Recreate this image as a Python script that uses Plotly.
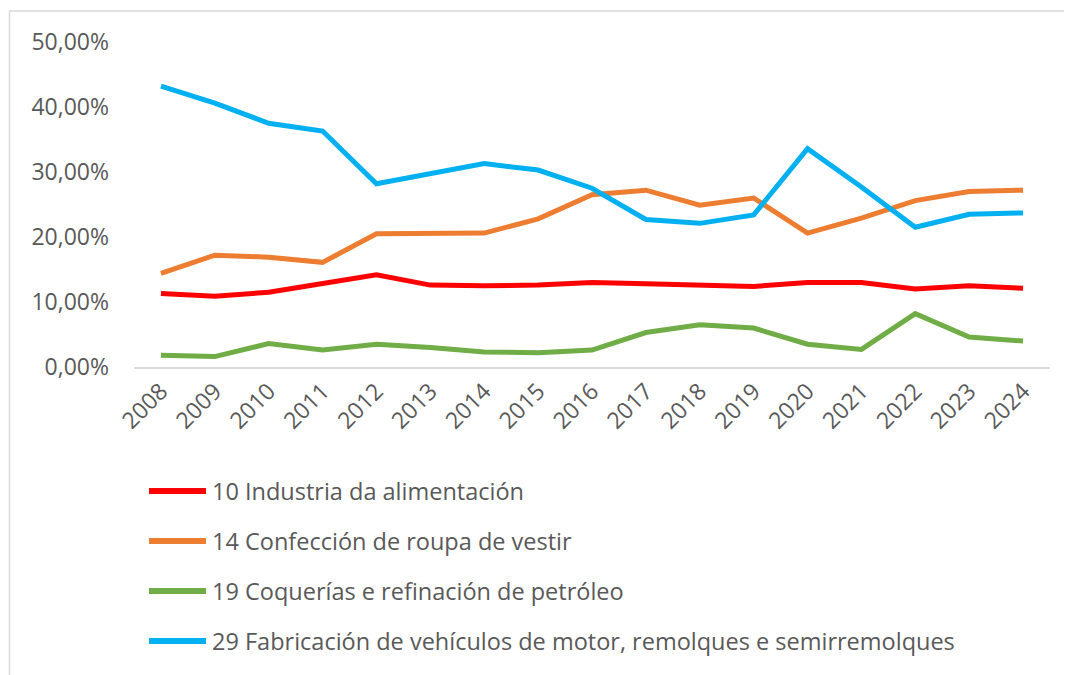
import plotly.graph_objects as go

years = [str(y) for y in range(2008, 2025)]

alimentacion = [11.3, 10.9, 11.5, 12.8, 14.2, 12.6, 12.5, 12.6, 13.0, 12.8, 12.6, 12.4, 13.0, 13.0, 12.0, 12.5, 12.1]
roupa = [14.4, 17.2, 16.9, 16.1, 20.5, 20.6, 20.6, 22.8, 26.5, 27.2, 24.9, 26.0, 20.6, 22.9, 25.6, 27.0, 27.2]
refinacion = [1.8, 1.6, 3.6, 2.6, 3.5, 3.0, 2.3, 2.2, 2.6, 5.3, 6.5, 6.0, 3.5, 2.7, 8.2, 4.6, 4.0]
vehiculos = [43.2, 40.6, 37.5, 36.3, 28.2, 29.8, 31.3, 30.3, 27.5, 22.7, 22.1, 23.4, 33.6, 27.7, 21.5, 23.5, 23.7]

series_names = [
    "10 Industria da alimentación",
    "14 Confección de roupa de vestir",
    "19 Coquerías e refinación de petróleo",
    "29 Fabricación de vehículos de motor, remolques e semirremolques",
]
series_values = [alimentacion, roupa, refinacion, vehiculos]
series_colors = ["#FF0000", "#ED7D31", "#70AD47", "#00B0F0"]

tick_vals = [0, 10, 20, 30, 40, 50]
tick_text = ["0,00%", "10,00%", "20,00%", "30,00%", "40,00%", "50,00%"]

OFF = 8  # page body margin
W, H = 1072 - OFF, 675 - OFF
L, T = 134 - OFF, 42 - OFF
pw, ph = 916, 325
R = W - L - pw
B = H - T - ph

FONT = "Open Sans"
TXT = "#595959"
FS = 23
FS_LEG = 23.5

fig = go.Figure()
for name, vals, col in zip(series_names, series_values, series_colors):
    fig.add_trace(go.Scatter(
        x=years, y=vals, mode="lines", name=name,
        line=dict(color=col, width=5), showlegend=False,
    ))


def px2paper_x(px):
    return (px - OFF - L) / pw


def px2paper_y(py):
    return (H - B - (py - OFF)) / ph


shapes = []
annotations = []
# outer border
shapes.append(dict(type="rect", xref="paper", yref="paper",
                   x0=px2paper_x(9.5), x1=px2paper_x(1090),
                   y0=px2paper_y(700), y1=px2paper_y(11),
                   line=dict(color="#D9D9D9", width=1.5), layer="below"))

legend_y = [491, 541, 591, 641]
for name, col, ly in zip(series_names, series_colors, legend_y):
    shapes.append(dict(type="line", xref="paper", yref="paper",
                       x0=px2paper_x(149), x1=px2paper_x(206),
                       y0=px2paper_y(ly), y1=px2paper_y(ly),
                       line=dict(color=col, width=6)))
    annotations.append(dict(xref="paper", yref="paper",
                            x=px2paper_x(210), y=px2paper_y(ly),
                            xanchor="left", yanchor="middle", showarrow=False,
                            text=name, font=dict(family=FONT, size=FS_LEG, color=TXT)))

fig.update_layout(
    width=W, height=H,
    margin=dict(l=L, r=R, t=T, b=B, autoexpand=False),
    paper_bgcolor="white", plot_bgcolor="white",
    shapes=shapes, annotations=annotations,
    xaxis=dict(
        type="category", range=[-0.5, 16.5], showgrid=False,
        showline=True, linecolor="#D9D9D9", linewidth=1.5,
        ticks="", tickangle=-45,
        tickfont=dict(family=FONT, size=FS, color=TXT),
    ),
    yaxis=dict(
        range=[0, 50], tickvals=tick_vals, ticktext=tick_text,
        showgrid=False, zeroline=False, showline=False, ticks="",
        ticklabelstandoff=24,
        tickfont=dict(family=FONT, size=FS, color=TXT),
    ),
)

fig.write_html("out.html")
